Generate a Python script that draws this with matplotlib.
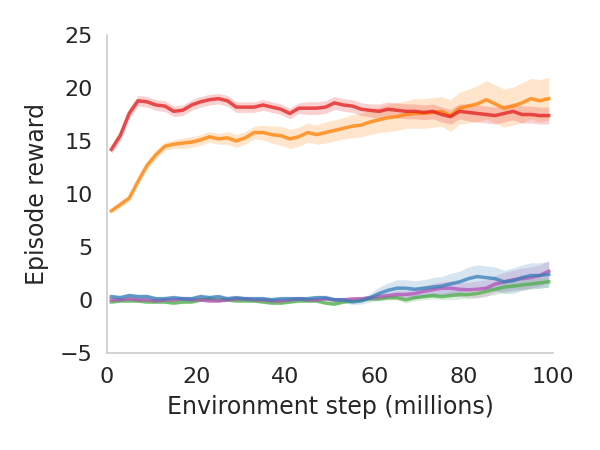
import numpy as np
import matplotlib
matplotlib.use("Agg")
import matplotlib.pyplot as plt

steps = list(range(1, 100, 2))

red = [14.2, 15.5, 17.6, 18.8, 18.7, 18.4, 18.3, 17.8, 17.9, 18.4,
       18.7, 18.9, 19.0, 18.8, 18.2, 18.2, 18.2, 18.4, 18.2, 18.0,
       17.6, 18.1, 18.1, 18.1, 18.2, 18.6, 18.4, 18.3, 18.0, 17.9,
       17.8, 18.0, 17.9, 17.8, 17.8, 17.7, 17.8, 17.5, 17.3, 17.8,
       17.7, 17.6, 17.5, 17.4, 17.6, 17.8, 17.5, 17.5, 17.4, 17.4]
red_err = [0.4, 0.5, 0.5, 0.5, 0.5, 0.5, 0.5, 0.5, 0.5, 0.5,
           0.5, 0.5, 0.5, 0.5, 0.5, 0.5, 0.5, 0.5, 0.5, 0.5,
           0.5, 0.5, 0.6, 0.6, 0.6, 0.6, 0.6, 0.6, 0.6, 0.6,
           0.7, 0.7, 0.7, 0.7, 0.7, 0.7, 0.7, 0.7, 0.7, 0.7,
           0.8, 0.8, 0.8, 0.8, 0.8, 0.8, 0.8, 0.8, 0.8, 0.8]

orange = [8.4, 9.0, 9.6, 11.2, 12.7, 13.7, 14.5, 14.7, 14.8, 14.9,
          15.1, 15.4, 15.2, 15.3, 15.0, 15.3, 15.8, 15.8, 15.6, 15.5,
          15.2, 15.4, 15.8, 15.6, 15.8, 16.0, 16.2, 16.4, 16.5, 16.8,
          17.0, 17.2, 17.3, 17.5, 17.6, 17.6, 17.7, 17.8, 17.4, 18.1,
          18.3, 18.5, 18.9, 18.5, 18.1, 18.3, 18.6, 19.0, 18.8, 19.0]
orange_err = [0.2, 0.3, 0.3, 0.3, 0.4, 0.4, 0.4, 0.4, 0.5, 0.5,
              0.5, 0.5, 0.5, 0.6, 0.6, 0.6, 0.6, 0.7, 0.8, 0.9,
              0.9, 0.9, 0.9, 0.9, 1.0, 1.0, 1.0, 1.1, 1.1, 1.2,
              1.2, 1.3, 1.3, 1.3, 1.4, 1.4, 1.4, 1.4, 1.5, 1.5,
              1.6, 1.7, 1.8, 1.8, 1.8, 1.8, 1.9, 1.9, 2.0, 2.0]

blue = [0.3, 0.2, 0.4, 0.3, 0.3, 0.1, 0.1, 0.2, 0.1, 0.1,
        0.3, 0.2, 0.3, 0.1, 0.2, 0.1, 0.1, 0.1, 0.0, 0.1,
        0.1, 0.1, 0.1, 0.2, 0.2, 0.0, 0.0, -0.2, -0.1, 0.2,
        0.6, 0.9, 1.1, 1.1, 1.0, 1.1, 1.2, 1.3, 1.5, 1.7,
        2.0, 2.2, 2.1, 2.0, 1.7, 1.8, 2.1, 2.3, 2.3, 2.4]
blue_err = [0.25] * 28 + [0.3, 0.4, 0.6, 0.7, 0.8, 0.8, 0.8, 0.8, 0.9, 0.9,
                          1.0, 1.0, 1.1, 1.1, 1.1, 1.1, 1.1, 1.2, 1.2, 1.2,
                          1.2, 1.2]

purple = [0.0, 0.0, 0.1, 0.0, 0.0, -0.1, 0.0, 0.0, 0.1, 0.0,
          0.0, -0.1, -0.1, 0.0, 0.1, 0.1, 0.0, 0.0, -0.1, -0.1,
          0.0, 0.1, 0.0, 0.0, 0.1, 0.0, 0.0, 0.1, 0.1, 0.2,
          0.3, 0.4, 0.5, 0.5, 0.6, 0.8, 0.95, 1.1, 1.1, 1.0,
          0.95, 1.0, 1.1, 1.5, 1.7, 1.9, 2.0, 2.1, 2.3, 2.7]
purple_err = [0.15] * 28 + [0.2, 0.2, 0.3, 0.3, 0.4, 0.4, 0.5, 0.5, 0.6, 0.6,
                            0.7, 0.7, 0.7, 0.8, 0.8, 0.8, 0.9, 0.9, 1.0, 1.0,
                            1.0, 1.0]

green = [-0.2, -0.1, -0.1, -0.1, -0.2, -0.2, -0.2, -0.3, -0.2, -0.2,
         0.0, 0.1, 0.0, 0.0, -0.1, -0.1, -0.1, -0.2, -0.3, -0.3,
         -0.2, -0.1, -0.1, -0.1, -0.3, -0.4, -0.2, -0.1, 0.0, 0.1,
         0.1, 0.2, 0.2, 0.0, 0.2, 0.3, 0.4, 0.3, 0.4, 0.5,
         0.5, 0.6, 0.8, 1.0, 1.2, 1.3, 1.4, 1.5, 1.6, 1.7]
green_err = [0.15] * 30 + [0.2, 0.2, 0.2, 0.3, 0.3, 0.3, 0.3, 0.3, 0.4, 0.4,
                           0.4, 0.4, 0.4, 0.5, 0.5, 0.5, 0.5, 0.5, 0.5, 0.5]

series = [
    (green, green_err, "#4daf4a"),
    (purple, purple_err, "#b44fb8"),
    (blue, blue_err, "#377eb8"),
    (orange, orange_err, "#ff7f00"),
    (red, red_err, "#e41a1c"),
]

fig = plt.figure(figsize=(6, 4.5), dpi=100)
ax = fig.add_axes([0.178, 0.216, 0.744, 0.706])

x = np.array(steps)
for vals, err, col in series:
    v = np.array(vals)
    e = np.array(err)
    ax.fill_between(x, v - e, v + e, color=col, alpha=0.2, linewidth=0)
    ax.plot(x, v, color=col, alpha=0.75, linewidth=2.5)

ax.set_xlim(0, 100)
ax.set_ylim(-5, 25)
ax.set_xticks([0, 20, 40, 60, 80, 100])
ax.set_yticks([-5, 0, 5, 10, 15, 20, 25])
ax.tick_params(length=0, labelsize=16, colors="#262626", pad=10)
ax.set_xlabel("Environment step (millions)", fontsize=17, color="#262626", labelpad=6)
ax.set_ylabel("Episode reward", fontsize=17, color="#262626", labelpad=8)
for side in ["top", "right"]:
    ax.spines[side].set_visible(False)
for side in ["left", "bottom"]:
    ax.spines[side].set_color("#cccccc")
    ax.spines[side].set_linewidth(1.2)

fig.savefig("out.png", dpi=100)
